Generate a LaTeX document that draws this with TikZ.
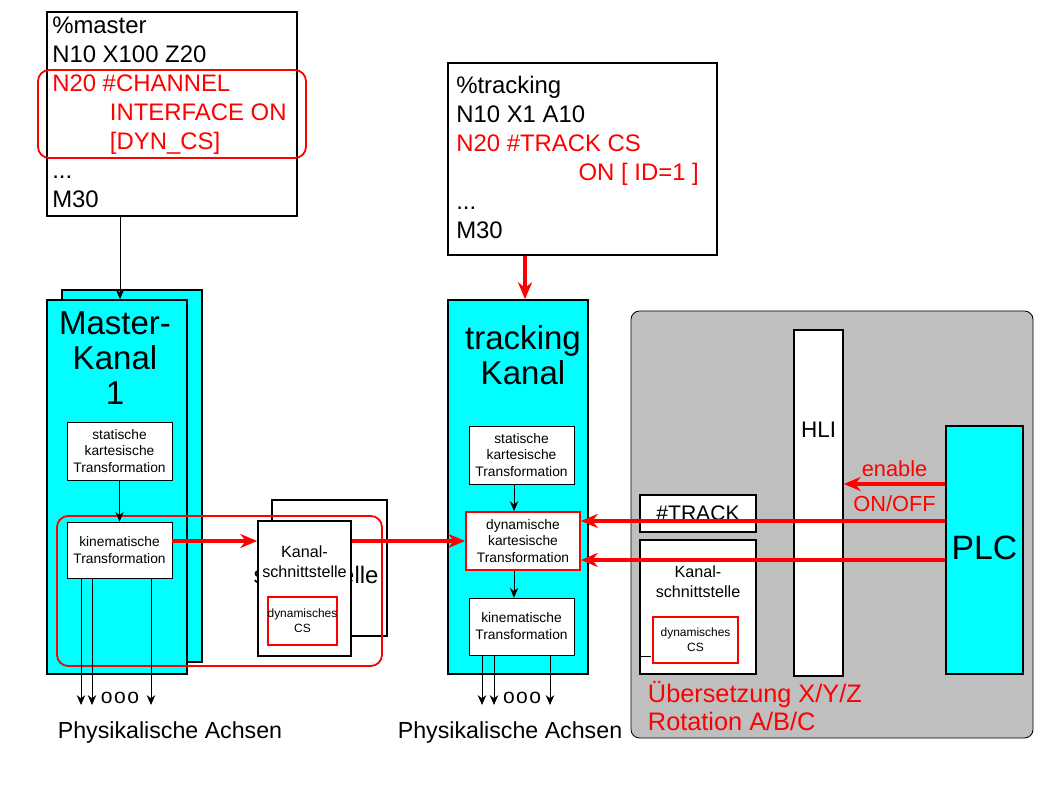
\documentclass[tikz,border=0pt]{standalone}
\usepackage{fontspec}
\setmainfont{Liberation Sans}
\usetikzlibrary{arrows.meta,positioning}
\definecolor{kanal}{rgb}{0,1,1}
\definecolor{panel}{rgb}{0.75,0.75,0.75}
\tikzset{
  sz/.style 2 args={minimum width=#1*0.025cm, minimum height=#2*0.025cm},
  box/.style={rectangle, draw=black, line width=1.2pt, fill=white, inner sep=0pt, align=center},
  kbox/.style={box, fill=kanal},
  small/.style={rectangle, draw=black, line width=0.4pt, fill=white, inner sep=0pt, align=center, font=\fontsize{9.8}{12}\selectfont},
  redsmall/.style={small, draw=red, line width=1.3pt},
  code/.style={anchor=north west, align=left, inner sep=0pt, font=\fontsize{17}{20.6}\selectfont},
  arrow/.style={-{Stealth[length=7pt,width=6pt]}, line width=0.6pt},
  rarrow/.style={-{Stealth[length=12pt,width=10pt]}, line width=2.8pt, red},
}
\begin{document}
\begin{tikzpicture}[x=0.025cm,y=-0.025cm]
\useasboundingbox (0,0) rectangle (1050,806);
%----------------------------------------------------------------------------
% program boxes
\node (masterProg) [box, sz={250}{204}] at (172,114) {};
\node [code] at (52,17) {\%master\\N10 X100 Z20\\
  \textcolor{red}{N20 \#CHANNEL}\\\hspace*{41pt}\textcolor{red}{INTERFACE ON}\\\hspace*{41pt}\textcolor{red}{[DYN\_CS]}\\...\\M30};
\draw [red, line width=1.3pt, rounded corners=8pt] (38,70) rectangle (306,158);

\node (trackProg) [box, sz={269}{192}] at (582.5,159) {};
\node [code] at (456,76) {\%tracking\\N10 X1 A10\\
  \textcolor{red}{N20 \#TRACK CS}\\\hspace*{87pt}\textcolor{red}{ON [ ID=1 ]}\\...\\M30};

%----------------------------------------------------------------------------
% master channel
\node (masterBack) [kbox, sz={140}{372}] at (132,476) {};
\node (masterKanal) [kbox, sz={140}{374}] at (117,487) {};
\node [align=center, font=\fontsize{23.5}{25}\selectfont] at (115,358) {Master-\\Kanal\\1};
\node (mStat) [small, sz={105}{58}] at (119.5,451) {statische\\kartesische\\Transformation};
\node (mKin) [small, sz={105}{56}] at (119.5,550) {kinematische\\Transformation};

% channel interface (stacked)
\node (ifaceBack) [box, sz={115}{136}] at (329.5,568) {};
\node [font=\fontsize{17}{19}\selectfont, align=center] at (316,562) {Kanal-\\schnittstelle};
\node (iface) [box, sz={93}{135}] at (304.5,588.5) {};
\node [font=\fontsize{11.5}{14}\selectfont, align=center] at (304.5,562) {Kanal-\\schnittstelle};
\node (ifaceCS) [redsmall, sz={65}{48}, font=\fontsize{8.5}{10.5}\selectfont] at (302.5,621) {dynamisches\\CS};
\draw [red, line width=1.3pt, rounded corners=8pt] (57,516) rectangle (382,666);

%----------------------------------------------------------------------------
% tracking channel
\node (trackKanal) [kbox, sz={140}{374}] at (518,487) {};
\node [align=center, font=\fontsize{23.5}{25}\selectfont] at (523,355) {tracking\\Kanal};
\node (tStat) [small, sz={105}{58}] at (521.5,455) {statische\\kartesische\\Transformation};
\node (tDyn) [redsmall, sz={114}{58}] at (523,541) {dynamische\\kartesische\\Transformation};
\node (tKin) [small, sz={105}{57}] at (521.5,626.5) {kinematische\\Transformation};

%----------------------------------------------------------------------------
% PLC side
\fill [panel, draw=black, line width=0.6pt, rounded corners=6pt] (631,311) rectangle (1033,738);
\node (hli) [box, sz={49}{346}] at (818.5,503) {};
\node [font=\fontsize{16}{18}\selectfont] at (818.5,430) {HLI};
\node (plc) [kbox, sz={77}{248}] at (984.5,550) {};
\node [font=\fontsize{24}{26}\selectfont] at (984.5,548) {PLC};
\node (track) [box, sz={116}{37}, font=\fontsize{15}{17}\selectfont] at (698,513.5) {\#TRACK};
\node (iface2) [box, sz={116}{134}] at (698,607) {};
\node [font=\fontsize{11.5}{14}\selectfont, align=center] at (698,582) {Kanal-\\schnittstelle};
\node (iface2CS) [redsmall, sz={85}{46}, font=\fontsize{8.5}{10.5}\selectfont] at (695.5,640) {dynamisches\\CS};
\draw (iface2.west |- 0,656) -- (651,656);
\node [red, anchor=west, align=left, font=\fontsize{18}{20.5}\selectfont] at (643,706) {Übersetzung X/Y/Z\\Rotation A/B/C};

%----------------------------------------------------------------------------
% connectors
\draw [arrow] (masterProg.south -| 120,0) -- (masterKanal.north -| 120,0);
\draw [rarrow] (trackProg.south -| 525,0) -- (trackKanal.north -| 525,0);
\draw [arrow] (mStat) -- (mKin);
\draw [arrow] (tStat.south -| 514,0) -- (tDyn.north -| 514,0);
\draw [arrow] (tDyn.south -| 514,0) -- (tKin.north -| 514,0);
\draw [rarrow] (mKin.east |- 0,541) -- (iface.west |- 0,541);
\draw [rarrow] (iface.east |- 0,541) -- (tDyn.west |- 0,541);
\draw [rarrow, line width=2.4pt] (plc.west |- 0,521) -- (tDyn.east |- 0,521);
\draw [rarrow, line width=2.4pt] (plc.west |- 0,560) -- (tDyn.east |- 0,560);
\draw [rarrow, line width=2.4pt] (plc.west |- 0,484) -- node [above=1pt, red, font=\fontsize{15.5}{17}\selectfont] {enable}
  node [below=4pt, red, font=\fontsize{15.5}{17}\selectfont] {ON/OFF} (hli.east |- 0,484);
\foreach \x in {81,92,151}
  \draw [arrow] (mKin.south -| \x,0) -- (\x,705);
\foreach \x in {482,494,550}
  \draw [arrow] (tKin.south -| \x,0) -- (\x,705);
\node [font=\fontsize{15}{15}\selectfont] at (120,698) {o\kern1pt o\kern1pt o};
\node [font=\fontsize{15}{15}\selectfont] at (522,698) {o\kern1pt o\kern1pt o};
\node [font=\fontsize{16.5}{18}\selectfont] at (170,732) {Physikalische Achsen};
\node [font=\fontsize{16.5}{18}\selectfont] at (510,732) {Physikalische Achsen};
\end{tikzpicture}
\end{document}
